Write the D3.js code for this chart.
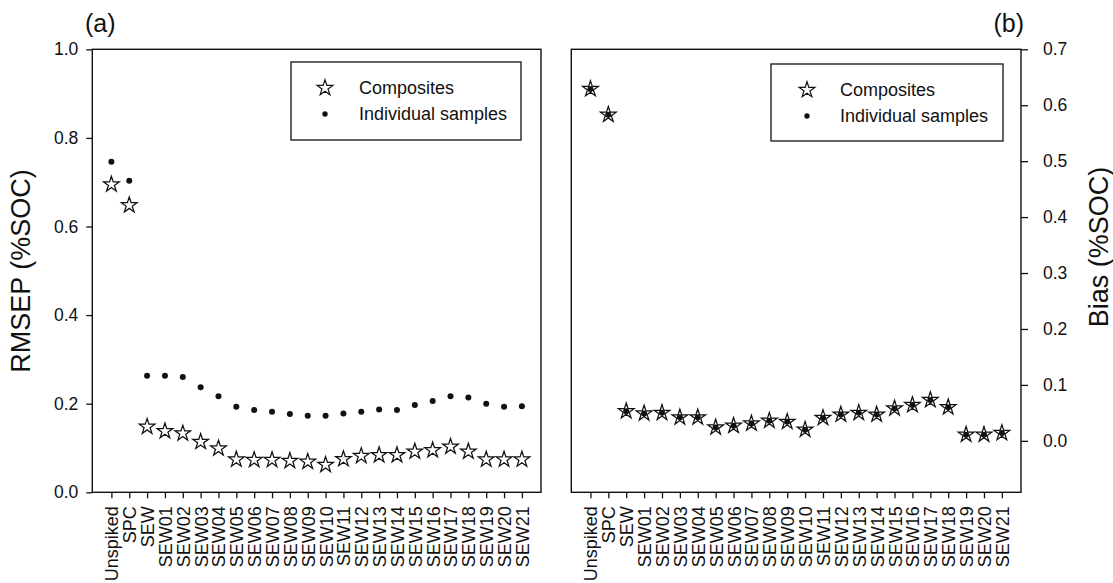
<!DOCTYPE html>
<html>
<head>
<meta charset="utf-8">
<script src="https://cdn.jsdelivr.net/npm/d3@7"></script>
<style>
  body { margin: 0; background: #fff; }
  text { font-family: "Liberation Sans", Arial, sans-serif; fill: #111; }
</style>
</head>
<body>
<svg id="chart" width="1113" height="583"></svg>
<script>
// Sample sets along the x axis
const categories = ["Unspiked", "SPC", "SEW", "SEW01", "SEW02", "SEW03", "SEW04", "SEW05",
  "SEW06", "SEW07", "SEW08", "SEW09", "SEW10", "SEW11", "SEW12", "SEW13", "SEW14",
  "SEW15", "SEW16", "SEW17", "SEW18", "SEW19", "SEW20", "SEW21"];

// (a) RMSEP (%SOC)
const rmsepComposites = [0.695, 0.648, 0.148, 0.138, 0.133, 0.114, 0.099, 0.074, 0.073, 0.073,
  0.071, 0.069, 0.062, 0.075, 0.082, 0.084, 0.084, 0.092, 0.095, 0.103, 0.092, 0.074, 0.074, 0.074];
const rmsepIndividual = [0.746, 0.703, 0.263, 0.263, 0.260, 0.237, 0.217, 0.193, 0.186, 0.182,
  0.177, 0.173, 0.173, 0.178, 0.182, 0.187, 0.186, 0.197, 0.206, 0.217, 0.214, 0.200, 0.193, 0.194];

// (b) Bias (%SOC)
const biasComposites = [0.629, 0.583, 0.053, 0.049, 0.050, 0.042, 0.042, 0.024, 0.027, 0.031,
  0.036, 0.034, 0.020, 0.041, 0.047, 0.050, 0.047, 0.058, 0.064, 0.073, 0.060, 0.011, 0.011, 0.014];
const biasIndividual = [0.629, 0.583, 0.053, 0.049, 0.050, 0.042, 0.042, 0.024, 0.027, 0.031,
  0.036, 0.034, 0.020, 0.041, 0.047, 0.050, 0.047, 0.058, 0.064, 0.073, 0.060, 0.011, 0.011, 0.014];

const rmsepTicks = [0.0, 0.2, 0.4, 0.6, 0.8, 1.0];
const biasTicks = [0.0, 0.1, 0.2, 0.3, 0.4, 0.5, 0.6, 0.7];
const seriesNames = ["Composites", "Individual samples"];

const svg = d3.select("#chart");
const ink = "#111";
const plotTop = 49.3, plotBottom = 492.3;
const fmt = d3.format(".1f");
const star = d3.symbol(d3.symbolStar).size(76)();

function drawPanel(cfg) {
  const x = d3.scalePoint().domain(categories).range([cfg.left, cfg.right]).padding(1.07);
  const y = d3.scaleLinear().domain(cfg.yDomain).range([plotBottom, plotTop]);
  const g = svg.append("g");

  // frame
  g.append("rect")
    .attr("x", cfg.left).attr("y", plotTop)
    .attr("width", cfg.right - cfg.left).attr("height", plotBottom - plotTop)
    .attr("fill", "none").attr("stroke", ink).attr("stroke-width", 1.4);

  // bottom axis with vertical labels
  const xa = g.append("g").attr("transform", `translate(0,${plotBottom})`)
    .call(d3.axisBottom(x).tickSize(6).tickSizeOuter(0));
  xa.select(".domain").remove();
  xa.selectAll(".tick line").attr("stroke", ink).attr("stroke-width", 1.3);
  xa.selectAll(".tick text")
    .attr("transform", "rotate(-90)")
    .attr("text-anchor", "end")
    .attr("x", -14).attr("y", 0).attr("dy", "0.36em")
    .style("font-size", "18px");

  // value axis
  const axis = cfg.side === "left"
    ? d3.axisLeft(y).tickSize(6).tickPadding(8)
    : d3.axisRight(y).tickSize(7).tickPadding(15);
  const ya = g.append("g")
    .attr("transform", `translate(${cfg.side === "left" ? cfg.left : cfg.right},0)`)
    .call(axis.tickValues(cfg.ticks).tickFormat(fmt).tickSizeOuter(0));
  ya.select(".domain").remove();
  ya.selectAll(".tick line").attr("stroke", ink).attr("stroke-width", 1.3);
  ya.selectAll(".tick text").style("font-size", "17.5px");

  // composites (stars)
  g.append("g").selectAll("path")
    .data(cfg.composites)
    .join("path")
    .attr("d", star)
    .attr("transform", (d, i) => `translate(${x(categories[i])},${y(d)})`)
    .attr("fill", "#fff").attr("stroke", ink).attr("stroke-width", 1.25);

  // individual samples (dots)
  g.append("g").selectAll("circle")
    .data(cfg.individual)
    .join("circle")
    .attr("cx", (d, i) => x(categories[i]))
    .attr("cy", d => y(d))
    .attr("r", 3)
    .attr("fill", ink);

  // legend
  const lg = g.append("g");
  lg.append("rect")
    .attr("x", cfg.legend.x).attr("y", cfg.legend.y)
    .attr("width", cfg.legend.w).attr("height", cfg.legend.h)
    .attr("fill", "#fff").attr("stroke", ink).attr("stroke-width", 1.3);
  lg.append("path").attr("d", star)
    .attr("transform", `translate(${cfg.legend.mx},${cfg.legend.y + 26})`)
    .attr("fill", "#fff").attr("stroke", ink).attr("stroke-width", 1.2);
  lg.append("circle")
    .attr("cx", cfg.legend.mx).attr("cy", cfg.legend.y + 52).attr("r", 2.7).attr("fill", ink);
  lg.selectAll("text.lab").data(seriesNames).join("text")
    .attr("class", "lab")
    .attr("x", cfg.legend.tx)
    .attr("y", (d, i) => cfg.legend.y + 26 + i * 26)
    .attr("dy", "0.36em")
    .style("font-size", "18px")
    .text(d => d);

  // panel tag
  svg.append("text")
    .attr("x", cfg.tag.x).attr("y", 32)
    .attr("text-anchor", cfg.tag.anchor)
    .style("font-size", "25px")
    .text(cfg.tag.text);

  // axis title
  svg.append("text")
    .attr("transform", `translate(${cfg.title.x},${cfg.title.y}) rotate(-90)`)
    .attr("text-anchor", "middle")
    .attr("dy", "0.36em")
    .style("font-size", "27px")
    .text(cfg.title.text);
}

drawPanel({
  left: 92.3, right: 541, side: "left",
  yDomain: [0, 1], ticks: rmsepTicks,
  composites: rmsepComposites, individual: rmsepIndividual,
  legend: { x: 291, y: 62, w: 230, h: 78, mx: 325, tx: 359 },
  tag: { x: 85, anchor: "start", text: "(a)" },
  title: { x: 20, y: 271, text: "RMSEP (%SOC)" }
});

drawPanel({
  left: 571.3, right: 1021, side: "right",
  yDomain: [-0.092, 0.7], ticks: biasTicks,
  composites: biasComposites, individual: biasIndividual,
  legend: { x: 771, y: 64, w: 232, h: 77, mx: 807, tx: 840 },
  tag: { x: 1024, anchor: "end", text: "(b)" },
  title: { x: 1098, y: 247, text: "Bias (%SOC)" }
});
</script>
</body>
</html>
